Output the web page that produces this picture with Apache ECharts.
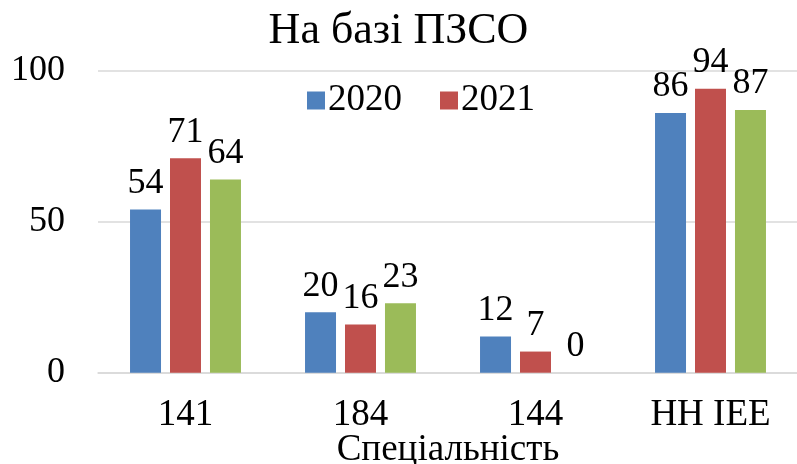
<!DOCTYPE html>
<html><head><meta charset="utf-8">
<script src="https://cdn.jsdelivr.net/npm/echarts@6/dist/echarts.min.js"></script>
<style>html,body{margin:0;padding:0;background:#fff}#c{width:797px;height:464px}</style>
</head><body><div id="c"></div>
<script>
const categories = ['141', '184', '144', 'НН ІЕЕ'];
const seriesNames = ['2020', '2021', '2022'];
const values2020 = [54, 20, 12, 86];
const values2021 = [71, 16, 7, 94];
const values2022 = [64, 23, 0, 87];
const yTicks = [0, 50, 100];
const colors = ['#4f81bd', '#c0504d', '#9bbb59'];
const FONT = 'Liberation Serif';

const chart = echarts.init(document.getElementById('c'));
const data = [values2020, values2021, values2022];
chart.setOption({
  animation: false,
  title: { text: 'На базі ПЗСО', left: 'center', top: 4,
    textStyle: { fontFamily: FONT, fontSize: 44, fontWeight: 'normal', color: '#000' } },
  legend: { data: ['2020', '2021'], top: 77, left: 302, itemWidth: 18, itemHeight: 18, itemGap: 38,
    icon: 'rect', textStyle: { fontFamily: FONT, fontSize: 37, color: '#000', padding: [0,0,0,-2] } },
  grid: { left: 98, top: 70.7, height: 302, width: 700, containLabel: false, outerBoundsMode: 'none' },
  xAxis: { type: 'category', data: categories,
    name: 'Спеціальність', nameLocation: 'middle', nameGap: 59, nameMoveOverlap: false,
    nameTextStyle: { fontFamily: FONT, fontSize: 37, color: '#000' },
    axisLine: { lineStyle: { color: '#d9d9d9', width: 1.5 } }, axisTick: { show: false },
    axisLabel: { fontFamily: FONT, fontSize: 37, color: '#000', margin: 24 } },
  yAxis: { type: 'value', min: 0, max: 100, interval: 50,
    axisLine: { show: false }, axisTick: { show: false },
    splitLine: { lineStyle: { color: '#d9d9d9', width: 1.5 } },
    axisLabel: { fontFamily: FONT, fontSize: 36, color: '#000', margin: 33,
      formatter: v => yTicks.includes(v) ? String(v) : '' } },
  series: seriesNames.map((n, i) => ({
    name: n, type: 'bar', data: data[i], barGap: '29%', barCategoryGap: '36.6%',
    itemStyle: { color: colors[i] },
    label: { show: true, position: 'top', distance: 8, fontFamily: FONT, fontSize: 36, color: '#000' }
  }))
});
</script></body></html>
